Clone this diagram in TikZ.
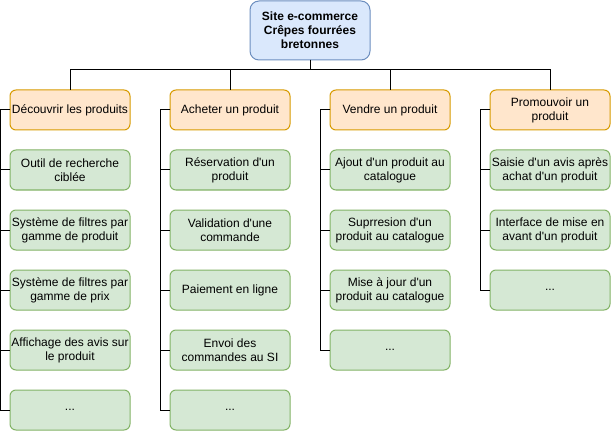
\documentclass[tikz,border=0pt]{standalone}
\usepackage{fontspec}
\setmainfont{Liberation Sans}[Ligatures=TeXOff]
\usetikzlibrary{positioning}
\definecolor{rootfill}{HTML}{DAE8FC}
\definecolor{rootline}{HTML}{6C8EBF}
\definecolor{catfill}{HTML}{FFE6CC}
\definecolor{catline}{HTML}{D79B00}
\definecolor{itemfill}{HTML}{D5E8D4}
\definecolor{itemline}{HTML}{82B366}

\begin{document}
\begin{tikzpicture}[x=1pt, y=1pt,
  box/.style={draw, line width=1pt, rounded corners=6pt, align=center, font=\fontsize{12}{14}\selectfont, inner sep=1pt, outer sep=0pt, minimum width=120pt, minimum height=40pt},
  rootbox/.style={box, fill=rootfill, draw=rootline, rounded corners=9pt, minimum height=59pt, font=\fontsize{12}{14}\selectfont\bfseries},
  catbox/.style={box, fill=catfill, draw=catline},
  itembox/.style={box, fill=itemfill, draw=itemline},
  link/.style={line width=1pt}
]
\useasboundingbox (0,0) rectangle (611,432);

\node[rootbox] (root) at (310,401.5) {Site e-commerce\\ Crêpes fourrées\\ bretonnes};

\node[catbox] (c1) at (70,322) {Découvrir les produits};
\node[catbox, right=40pt of c1] (c2) {Acheter un produit};
\node[catbox, right=40pt of c2] (c3) {Vendre un produit};
\node[catbox, right=40pt of c3] (c4) {Promouvoir un\\ produit};

\node[itembox, below=20pt of c1] (d1) {Outil de recherche\\ ciblée};
\node[itembox, below=20pt of d1] (d2) {Système de filtres par\\ gamme de produit};
\node[itembox, below=20pt of d2] (d3) {Système de filtres par\\ gamme de prix};
\node[itembox, below=20pt of d3] (d4) {Affichage des avis sur\\ le produit};
\node[itembox, below=20pt of d4] (d5) {...};

\node[itembox, below=20pt of c2] (a1) {Réservation d'un\\ produit};
\node[itembox, below=20pt of a1] (a2) {Validation d'une\\ commande};
\node[itembox, below=20pt of a2] (a3) {Paiement en ligne};
\node[itembox, below=20pt of a3] (a4) {Envoi des\\ commandes au SI};
\node[itembox, below=20pt of a4] (a5) {...};

\node[itembox, below=20pt of c3] (v1) {Ajout d'un produit au\\ catalogue};
\node[itembox, below=20pt of v1] (v2) {Suprresion d'un\\ produit au catalogue};
\node[itembox, below=20pt of v2] (v3) {Mise à jour d'un\\ produit au catalogue};
\node[itembox, below=20pt of v3] (v4) {...};

\node[itembox, below=20pt of c4] (p1) {Saisie d'un avis après\\ achat d'un produit};
\node[itembox, below=20pt of p1] (p2) {Interface de mise en\\ avant d'un produit};
\node[itembox, below=20pt of p2] (p3) {...};

\foreach \c in {c1,c2,c3,c4}
  \draw[link] (root.south) -- ++(0,-10) -| (\c.north);
\foreach \i in {1,...,5}
  \draw[link] (c1.west) -- ++(-10,0) |- (d\i.west);
\foreach \i in {1,...,5}
  \draw[link] (c2.west) -- ++(-10,0) |- (a\i.west);
\foreach \i in {1,...,4}
  \draw[link] (c3.west) -- ++(-10,0) |- (v\i.west);
\foreach \i in {1,...,3}
  \draw[link] (c4.west) -- ++(-10,0) |- (p\i.west);
\end{tikzpicture}
\end{document}
